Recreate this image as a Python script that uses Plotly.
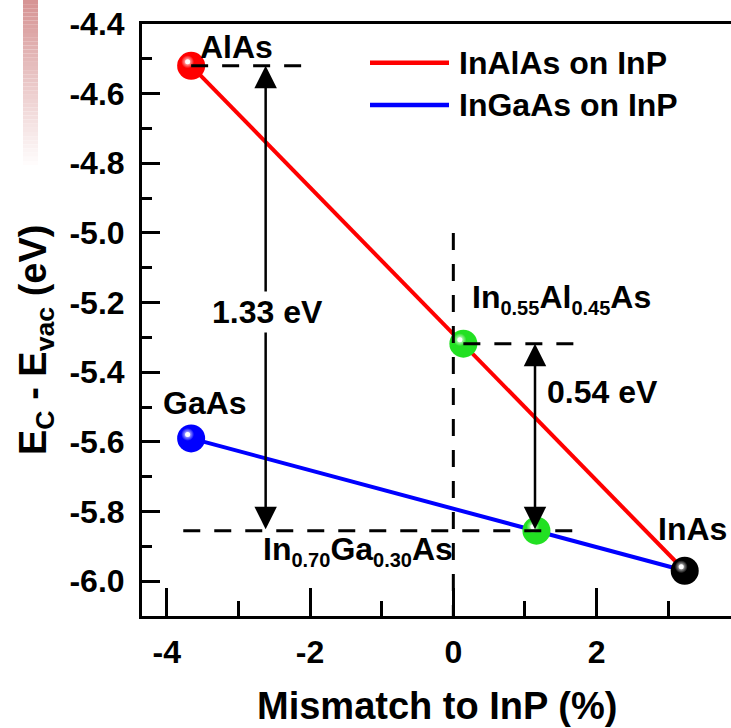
import plotly.graph_objects as go

# ---------------- data ----------------
binary_names = ["AlAs", "GaAs", "InAs"]
binary_mismatch = [-3.66, -3.66, 3.23]      # % mismatch to InP
binary_ec = [-4.52, -5.59, -5.97]           # Ec - Evac (eV)
binary_colors = ["#ff0000", "#0000ff", "#000000"]

inalas_mismatch = [-3.66, 3.23]             # AlAs -> InAs
inalas_ec = [-4.52, -5.97]
ingaas_mismatch = [-3.66, 3.23]             # GaAs -> InAs
ingaas_ec = [-5.59, -5.97]

alloy_parts = [("In", "0.55", "Al", "0.45", "As"), ("In", "0.70", "Ga", "0.30", "As")]
alloy_mismatch = [0.14, 1.16]
alloy_ec = [-5.318, -5.855]

gap_labels = ["1.33 eV", "0.54 eV"]

x_tickvals = [-4, -2, 0, 2]
x_ticktext = ["-4", "-2", "0", "2"]
y_tickvals = [-6.0, -5.8, -5.6, -5.4, -5.2, -5.0, -4.8, -4.6, -4.4]
y_ticktext = ["-6.0", "-5.8", "-5.6", "-5.4", "-5.2", "-5.0", "-4.8", "-4.6", "-4.4"]

# ---------------- layout geometry ----------------
W, H = 731, 728
ML, MR, MT, MB = 142, 0, 24, 112
XR = [-4.346, 3.876]
YR = [-6.10, -4.40]
PW, PH = W - ML - MR, H - MT - MB
xpx = PW / (XR[1] - XR[0])
ypx = PH / (YR[1] - YR[0])

FONT = "Liberation Sans, Arial, sans-serif"
NOGRID = "rgba(0,0,0,0)"


def px_x(p):
    return (p - ML) / PW


def px_y(p):
    return (H - MB - p) / PH


def b(s):
    return "<b>" + s + "</b>"


def sub(s):
    return '<sub><span style="font-size:20px">' + s + "</span></sub>"


def alloy_label(p):
    return b(p[0] + sub(p[1]) + p[2] + sub(p[3]) + p[4])


fig = go.Figure()

# lines
fig.add_trace(go.Scatter(x=inalas_mismatch, y=inalas_ec, mode="lines",
                         line=dict(color="#ff0000", width=4), showlegend=False,
                         hoverinfo="skip"))
fig.add_trace(go.Scatter(x=ingaas_mismatch, y=ingaas_ec, mode="lines",
                         line=dict(color="#0000ff", width=4), showlegend=False,
                         hoverinfo="skip"))

# spheres
all_x = binary_mismatch + alloy_mismatch
all_y = binary_ec + alloy_ec
all_c = binary_colors + ["#22e022", "#22e022"]

fig.add_trace(go.Scatter(x=all_x, y=all_y, mode="markers",
                         marker=dict(size=28, color=all_c, line=dict(width=0)),
                         showlegend=False))
# highlights (slightly up-left through shifted overlay axes)
fig.add_trace(go.Scatter(x=all_x, y=all_y, mode="markers", xaxis="x2", yaxis="y2",
                         marker=dict(size=13, color=all_c, line=dict(width=0),
                                     gradient=dict(type="radial", color="#ffffff")),
                         showlegend=False, hoverinfo="skip"))
fig.add_trace(go.Scatter(x=all_x, y=all_y, mode="markers", xaxis="x2", yaxis="y2",
                         marker=dict(size=5, color="#ffffff", line=dict(width=0)),
                         showlegend=False, hoverinfo="skip"))

shapes = []
dash = "17px,14px"
# dashed guide lines
shapes.append(dict(type="line", xref="x", yref="y", x0=binary_mismatch[0], x1=-2.07,
                   y0=binary_ec[0], y1=binary_ec[0], layer="above",
                   line=dict(color="black", width=3, dash=dash)))
shapes.append(dict(type="line", xref="x", yref="y", x0=alloy_mismatch[0], x1=1.86,
                   y0=alloy_ec[0], y1=alloy_ec[0], layer="above",
                   line=dict(color="black", width=3, dash=dash)))
shapes.append(dict(type="line", xref="x", yref="y", x0=-3.77, x1=1.72,
                   y0=alloy_ec[1], y1=alloy_ec[1], layer="above",
                   line=dict(color="black", width=3, dash=dash)))
shapes.append(dict(type="line", xref="x", yref="y", x0=0, x1=0,
                   y0=-5.0, y1=YR[0], layer="above",
                   line=dict(color="black", width=3, dash=dash)))

# custom legend
for yy, col in [(62.7, "#ff0000"), (105, "#0000ff")]:
    shapes.append(dict(type="line", xref="paper", yref="paper", x0=px_x(370), x1=px_x(449),
                       y0=px_y(yy), y1=px_y(yy), line=dict(color=col, width=4.5)))

# faded strip at the left edge
N = 40
for i in range(N):
    t = i / (N - 1)
    r = int(214 + (255 - 214) * t)
    g = int(148 + (252 - 148) * t)
    bb = int(148 + (252 - 148) * t)
    y0 = 165 * i / N
    y1 = 165 * (i + 1) / N
    shapes.append(dict(type="rect", xref="paper", yref="paper",
                       x0=px_x(23), x1=px_x(38), y0=px_y(y1), y1=px_y(y0),
                       fillcolor=f"rgb({r},{g},{bb})", line=dict(width=0), layer="below"))

annotations = []
f32 = dict(family=FONT, size=32, color="black")
f38 = dict(family=FONT, size=38, color="black")

# arrows
for xa, ytop in [(-2.62, binary_ec[0]), (1.14, alloy_ec[0])]:
    annotations.append(dict(x=xa, y=ytop, ax=xa, ay=alloy_ec[1], xref="x", yref="y",
                            axref="x", ayref="y", text="", showarrow=True, arrowhead=2,
                            arrowside="end+start", arrowsize=1.8, arrowwidth=2.5,
                            arrowcolor="black", standoff=0, startstandoff=0))

annotations.append(dict(x=-2.59, y=-5.228, xref="x", yref="y", text=b(gap_labels[0]),
                        showarrow=False, font=f32, bgcolor="white", borderpad=2,
                        xanchor="center", yanchor="middle"))
annotations.append(dict(x=1.28, y=-5.457, xref="x", yref="y", text=b(gap_labels[1]),
                        showarrow=False, font=f32, xanchor="left", yanchor="middle"))

# material labels
lab_pos = [(-3.024, -4.466), (-3.471, -5.489), (3.345, -5.849)]
for name, (lx, ly) in zip(binary_names, lab_pos):
    annotations.append(dict(x=lx, y=ly, xref="x", yref="y", text=b(name),
                            showarrow=False, font=f32, xanchor="center", yanchor="middle"))
annotations.append(dict(x=0.23, y=-5.19, xref="x", yref="y", text=alloy_label(alloy_parts[0]),
                        showarrow=False, font=f32, xanchor="left", yanchor="middle"))
annotations.append(dict(x=-2.679, y=-5.912, xref="x", yref="y", text=alloy_label(alloy_parts[1]),
                        showarrow=False, font=f32, xanchor="left", yanchor="middle"))

# legend texts
for yy, txt in [(62.7, "InAlAs on InP"), (105, "InGaAs on InP")]:
    annotations.append(dict(x=px_x(457), y=px_y(yy), xref="paper", yref="paper",
                            text=b(txt), showarrow=False, font=f32,
                            xanchor="left", yanchor="middle"))

# axis titles
annotations.append(dict(x=px_x(437), y=px_y(706), xref="paper", yref="paper",
                        text=b("Mismatch to InP (%)"), showarrow=False, font=f38,
                        xanchor="center", yanchor="middle"))
annotations.append(dict(x=px_x(36), y=px_y(340), xref="paper", yref="paper",
                        text=b("E<sub>C</sub> - E<sub>vac</sub> (eV)"), showarrow=False,
                        textangle=-90, font=f38, xanchor="center", yanchor="middle"))

fig.update_layout(
    template="none",
    width=W, height=H,
    margin=dict(l=ML, r=MR, t=MT, b=MB, pad=0),
    plot_bgcolor="white", paper_bgcolor="white",
    shapes=shapes, annotations=annotations, showlegend=False,
    xaxis=dict(range=XR, showgrid=False, gridcolor=NOGRID, zeroline=False, showline=True,
               linecolor="black", linewidth=3, mirror=True, ticks="inside", ticklen=28,
               tickwidth=3, tickcolor="black", tickmode="array", tickvals=x_tickvals,
               ticktext=[b(t) for t in x_ticktext],
               tickfont=dict(family=FONT, size=32, color="black"),
               ticklabelstandoff=6,
               minor=dict(ticks="inside", ticklen=15, tickwidth=3, tickcolor="black",
                          dtick=1, tick0=0, showgrid=False, gridcolor=NOGRID)),
    yaxis=dict(range=YR, showgrid=False, gridcolor=NOGRID, zeroline=False, showline=True,
               linecolor="black", linewidth=3, mirror=False, ticks="inside", ticklen=18,
               tickwidth=3, tickcolor="black", tickmode="array", tickvals=y_tickvals,
               ticktext=[b(t) for t in y_ticktext],
               tickfont=dict(family=FONT, size=32, color="black"),
               ticklabelstandoff=8,
               minor=dict(ticks="inside", ticklen=10, tickwidth=3, tickcolor="black",
                          dtick=0.1, tick0=-6.0, showgrid=False, gridcolor=NOGRID)),
    xaxis2=dict(overlaying="x", visible=False, showgrid=False, gridcolor=NOGRID,
                zeroline=False, range=[XR[0] + 3.5 / xpx, XR[1] + 3.5 / xpx]),
    yaxis2=dict(overlaying="y", visible=False, showgrid=False, gridcolor=NOGRID,
                zeroline=False, range=[YR[0] - 4.0 / ypx, YR[1] - 4.0 / ypx]),
)

fig.write_html("out.html")
